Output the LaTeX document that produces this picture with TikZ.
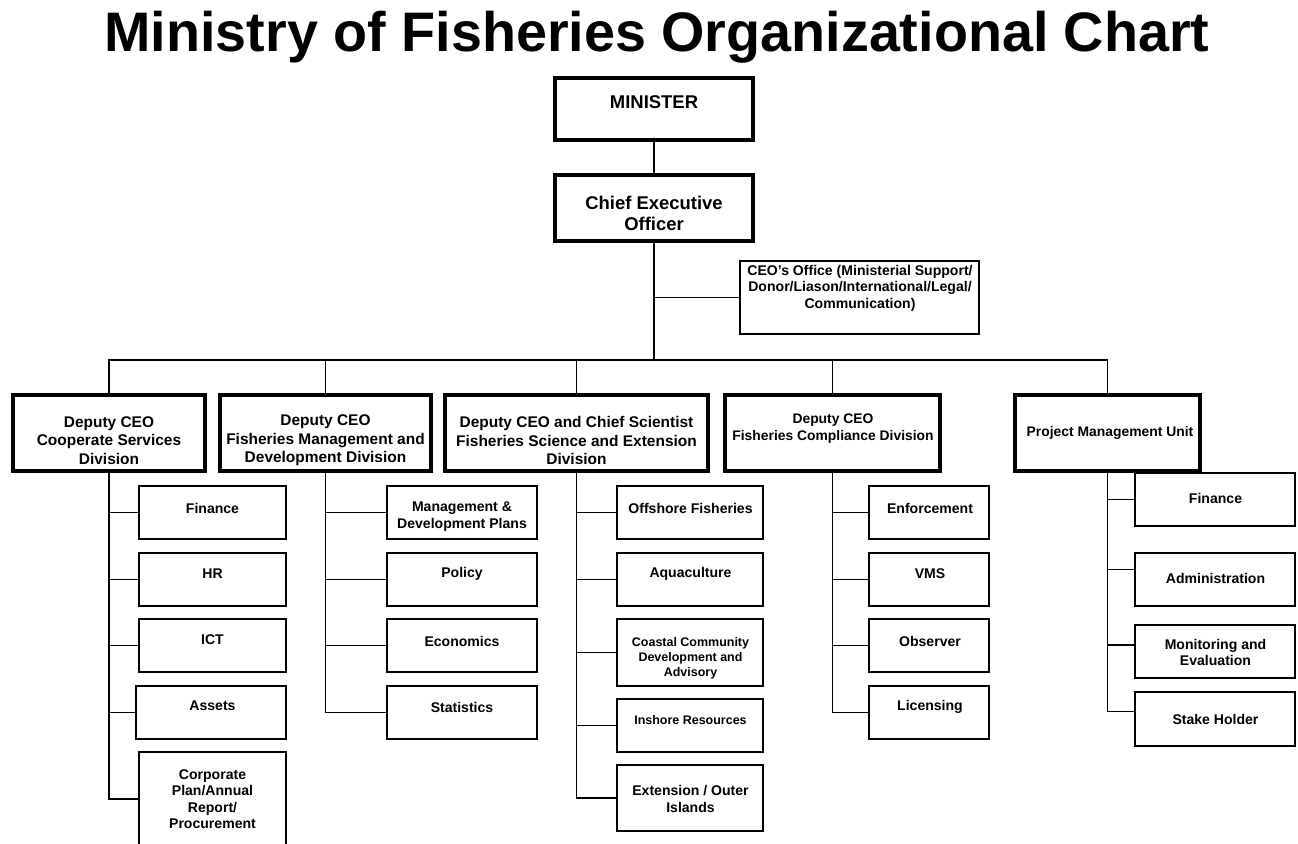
\documentclass[tikz,border=0pt]{standalone}
\usepackage{fontspec}
\setmainfont{Liberation Sans}
\usetikzlibrary{positioning,fit,calc}

\tikzset{
  chief/.style={draw, line width=1.9pt, inner sep=0pt},
  division/.style={draw, line width=2.1pt, inner sep=0pt},
  unit/.style={draw, line width=0.75pt, inner sep=0pt},
  link/.style={line width=0.75pt},
  toptext/.style={align=center, inner sep=0pt, font=\bfseries\fontsize{10.5}{11.9}\selectfont},
  officetext/.style={align=center, inner sep=0pt, font=\bfseries\fontsize{8}{9.35}\selectfont},
  divtext/.style={align=center, inner sep=0pt, font=\bfseries\fontsize{8.8}{10.5}\selectfont},
  divtextsm/.style={align=center, inner sep=0pt, font=\bfseries\fontsize{7.9}{9.6}\selectfont},
  unittext/.style={align=center, inner sep=0pt, font=\bfseries\fontsize{8}{9.4}\selectfont},
  smalltext/.style={align=center, inner sep=0pt, font=\bfseries\fontsize{7.1}{8.5}\selectfont}
}

\begin{document}
\begin{tikzpicture}[x=0.02cm, y=-0.02cm]
\useasboundingbox (0,0) rectangle (1298,844);
\node[anchor=base, inner sep=0pt, font=\bfseries\fontsize{31.7}{36}\selectfont] (title) at (657,52) {Ministry of Fisheries Organizational Chart};

% minister, ceo and office
\node[chief, fit={(555,78) (753,140)}] (minister) {};
\node[toptext] (minister-t) at (654,102) {MINISTER};
\node[chief, fit={(555,175) (753,241)}] (ceo) {};
\node[toptext] (ceo-t) at (654,213.5) {Chief Executive\\Officer};
\node[unit, fit={(740,261) (979,334)}] (office) {};
\node[officetext] (office-t) at (860,288) {CEO's Office (Ministerial Support/\\Donor/Liason/International/Legal/\\Communication)};
\coordinate (bus) at (654,360);

\draw[link] (minister.south) -- (ceo.north);
\draw[link] (ceo.south) -- (bus);
\draw[link] (office.west) -- (office.west -| ceo.south);

% divisions
\node[division, fit={(13,395) (205,471)}] (corp) {};
\node[divtext] (corp-t) at (109,440.5) {Deputy CEO\\Cooperate Services\\Division};
\node[division, fit={(220,395) (431,471)}] (fmd) {};
\node[divtext] (fmd-t) at (325.5,440.5) {Deputy CEO\\Fisheries Management and\\Development Division};
\node[division, fit={(445,395) (708,471)}] (science) {};
\node[divtext] (science-t) at (576.5,440.5) {Deputy CEO and Chief Scientist\\Fisheries Science and Extension\\Division};
\node[division, fit={(725,395) (940,471)}] (compliance) {};
\node[divtextsm] (compliance-t) at (833,428.5) {Deputy CEO\\Fisheries Compliance Division};
\node[division, fit={(1015,395) (1200,471)}] (pmu) {};
\node[divtextsm] (pmu-t) at (1110,433) {Project Management Unit};

\foreach \d in {corp,fmd,science,compliance,pmu}
  \draw[link] (\d.north) |- (bus);

% units
\foreach \nm/\l/\t/\b/\ty/\txt in {
    finance/139/486/539/508/Finance,
    hr/139/553/606/574/HR,
    ict/139/619/672/640/ICT,
    assets/136/686/739/706/Assets,
    plan/139/752/846/799/{Corporate\\Plan/Annual\\Report/\\Procurement}}{
  \node[unit, fit={(\l,\t) (286,\b)}] (\nm) {};
  \node[unittext] (\nm-t) at (212.5,\ty) {\txt};
  \draw[link] (corp.south) |- (\nm.west);
}

\foreach \nm/\t/\b/\ty/\txt in {
    mdplans/486/539/516.5/{Management \&\\Development Plans},
    policy/553/606/574/Policy,
    economics/619/672/641/Economics,
    statistics/686/739/707/Statistics}{
  \node[unit, fit={(387,\t) (537,\b)}] (\nm) {};
  \node[unittext] (\nm-t) at (462,\ty) {\txt};
  \draw[link] (fmd.south) |- (\nm.west);
}

\foreach \nm/\t/\b/\ty/\txt in {
    offshore/486/539/508/Offshore Fisheries,
    aquaculture/553/606/574/Aquaculture,
    outer/765/831/799/{Extension / Outer\\Islands}}{
  \node[unit, fit={(617,\t) (763,\b)}] (\nm) {};
  \node[unittext] (\nm-t) at (690.5,\ty) {\txt};
  \draw[link] (science.south) |- (\nm.west);
}
\node[unit, fit={(617,619) (763,686)}] (coastal) {};
\node[smalltext] (coastal-t) at (690.5,658) {Coastal Community\\Development and\\Advisory};
\node[unit, fit={(617,699) (763,752)}] (inshore) {};
\node[smalltext] (inshore-t) at (690.5,720) {Inshore Resources};
\draw[link] (science.south) |- (coastal.west);
\draw[link] (science.south) |- (inshore.west);

\foreach \nm/\t/\b/\ty/\txt in {
    enforcement/486/539/508/Enforcement,
    vms/553/606/574/VMS,
    observer/619/672/641/Observer,
    licensing/686/739/707/Licensing}{
  \node[unit, fit={(869,\t) (989,\b)}] (\nm) {};
  \node[unittext] (\nm-t) at (930,\ty) {\txt};
  \draw[link] (compliance.south) |- (\nm.west);
}

\foreach \nm/\t/\b/\ty/\f/\txt in {
    pfinance/473/526/498/0.5/Finance,
    admin/553/606/578/0.32/Administration,
    monitoring/625/678/652.5/0.38/{Monitoring and\\Evaluation},
    stakeholder/692/746/719/0.37/Stake Holder}{
  \node[unit, fit={(1135,\t) (1295,\b)}] (\nm) {};
  \node[unittext] (\nm-t) at (1215.5,\ty) {\txt};
  \draw[link] (pmu.south) |- ($(\nm.north west)!\f!(\nm.south west)$);
}
\end{tikzpicture}
\end{document}
